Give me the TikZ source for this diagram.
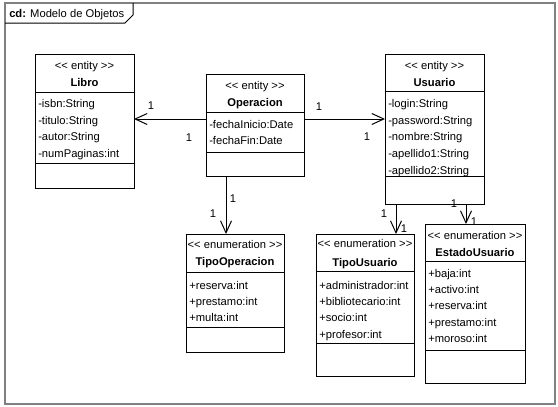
\documentclass[tikz,border=0pt]{standalone}
\usepackage{fontspec}
\setmainfont{Liberation Sans}
\usetikzlibrary{arrows.meta,fit}
\begin{document}
\begin{tikzpicture}[x=0.75pt,y=-0.75pt,
  every node/.style={font=\fontsize{8.4}{10}\selectfont},
  classbox/.style={draw=black, line width=0.75pt, fill=white, inner sep=0pt, outer sep=0pt},
  stereo/.style={anchor=center, inner sep=0pt, text height=0.75em, text depth=0.1em},
  cname/.style={stereo, font=\fontsize{8.4}{10}\selectfont\bfseries},
  attr/.style={anchor=west, inner sep=0pt, text height=0.75em, text depth=0.1em},
  divider/.style={line width=0.75pt},
  assoc/.style={line width=0.75pt, -{Straight Barb[length=9pt,width=8.25pt,line width=0.75pt]}},
  mult/.style={inner sep=0pt, text height=0.75em, text depth=0.1em},
  frameline/.style={draw=gray, line width=1pt}]

% canvas
\useasboundingbox (0,0) rectangle (558,407);
\fill[white] (0,0) rectangle (558,407);

% diagram frame and its name tab
\draw[frameline] (5,3) rectangle (555,404);
\draw[line width=0.75pt] (5,23) -- (125,23) -- (133,15) -- (133,3);
\node[attr] (tabtitle) at (9,13) {\textbf{cd:} Modelo de Objetos};

% ---------- Libro ----------
\node[classbox, fit={(35,54) (134,188)}] (libro) {};
\draw[divider] (libro.west |- 0,92) -- (libro.east |- 0,92);
\draw[divider] (libro.west |- 0,163) -- (libro.east |- 0,163);
\node[stereo] (libro-st) at (libro.north |- 0,65) {{<}{<} entity {>}{>}};
\node[cname] (libro-nm) at (libro.north |- 0,82) {Libro};
\foreach \t [count=\i] in {-isbn:String,-titulo:String,-autor:String,-numPaginas:int}
  \node[attr] (libro-a\i) at (38,{103+(\i-1)*16.7}) {\t};

% ---------- Operacion ----------
\node[classbox, fit={(206,74) (304,176)}] (oper) {};
\draw[divider] (oper.west |- 0,112) -- (oper.east |- 0,112);
\draw[divider] (oper.west |- 0,152) -- (oper.east |- 0,152);
\node[stereo] (oper-st) at (oper.north |- 0,85) {{<}{<} entity {>}{>}};
\node[cname] (oper-nm) at (oper.north |- 0,102) {Operacion};
\foreach \t [count=\i] in {-fechaInicio:Date,-fechaFin:Date}
  \node[attr] (oper-a\i) at (209,{124+(\i-1)*16.5}) {\t};

% ---------- Usuario ----------
\node[classbox, fit={(385,54) (484,204)}] (usuario) {};
\draw[divider] (usuario.west |- 0,91) -- (usuario.east |- 0,91);
\draw[divider] (usuario.west |- 0,176) -- (usuario.east |- 0,176);
\node[stereo] (usuario-st) at (usuario.north |- 0,65) {{<}{<} entity {>}{>}};
\node[cname] (usuario-nm) at (usuario.north |- 0,82) {Usuario};
\foreach \t [count=\i] in {-login:String,-password:String,-nombre:String,-apellido1:String,-apellido2:String}
  \node[attr] (usuario-a\i) at (388,{103+(\i-1)*16.7}) {\t};

% ---------- TipoOperacion ----------
\node[classbox, fit={(186,234) (284,352)}] (tipoop) {};
\draw[divider] (tipoop.west |- 0,272) -- (tipoop.east |- 0,272);
\draw[divider] (tipoop.west |- 0,327) -- (tipoop.east |- 0,327);
\node[stereo] (tipoop-st) at (tipoop.north |- 0,244) {{<}{<} enumeration {>}{>}};
\node[cname] (tipoop-nm) at (tipoop.north |- 0,261) {TipoOperacion};
\foreach \t [count=\i] in {+reserva:int,+prestamo:int,+multa:int}
  \node[attr] (tipoop-a\i) at (189,{285+(\i-1)*16}) {\t};

% ---------- TipoUsuario ----------
\node[classbox, fit={(316,234) (414,376)}] (tipousr) {};
\draw[divider] (tipousr.west |- 0,271) -- (tipousr.east |- 0,271);
\draw[divider] (tipousr.west |- 0,343) -- (tipousr.east |- 0,343);
\node[stereo] (tipousr-st) at (tipousr.north |- 0,243) {{<}{<} enumeration {>}{>}};
\node[cname] (tipousr-nm) at (tipousr.north |- 0,262) {TipoUsuario};
\foreach \t [count=\i] in {+administrador:int,+bibliotecario:int,+socio:int,+profesor:int}
  \node[attr] (tipousr-a\i) at (319,{285+(\i-1)*16.3}) {\t};

% ---------- EstadoUsuario ----------
\node[classbox, fit={(425,224) (525,383)}] (estado) {};
\draw[divider] (estado.west |- 0,261) -- (estado.east |- 0,261);
\draw[divider] (estado.west |- 0,350) -- (estado.east |- 0,350);
\node[stereo] (estado-st) at (estado.north |- 0,235) {{<}{<} enumeration {>}{>}};
\node[cname] (estado-nm) at (estado.north |- 0,252) {EstadoUsuario};
\foreach \t [count=\i] in {+baja:int,+activo:int,+reserva:int,+prestamo:int,+moroso:int}
  \node[attr] (estado-a\i) at (428,{273+(\i-1)*16.3}) {\t};

% ---------- associations ----------
\draw[assoc] (oper.west |- 0,119) -- (libro.east |- 0,119);
\draw[assoc] (oper.east |- 0,119) -- (usuario.west |- 0,119);
\draw[assoc] (oper.south -| 226,0) -- (tipoop.north -| 226,0);
\draw[assoc] (usuario.south -| 396,0) -- (tipousr.north -| 396,0);
\draw[assoc] (usuario.south -| 466,0) -- (estado.north -| 466,0);

% multiplicities
\node[mult] (m1) at (151,105) {1};
\node[mult] (m2) at (189,137) {1};
\node[mult] (m3) at (319,106) {1};
\node[mult] (m4) at (367,136) {1};
\node[mult] (m5) at (233,198) {1};
\node[mult] (m6) at (213,213) {1};
\node[mult] (m7) at (384,213) {1};
\node[mult] (m8) at (404,228) {1};
\node[mult] (m9) at (454,203) {1};
\node[mult] (m10) at (474,221) {1};
\end{tikzpicture}
\end{document}
